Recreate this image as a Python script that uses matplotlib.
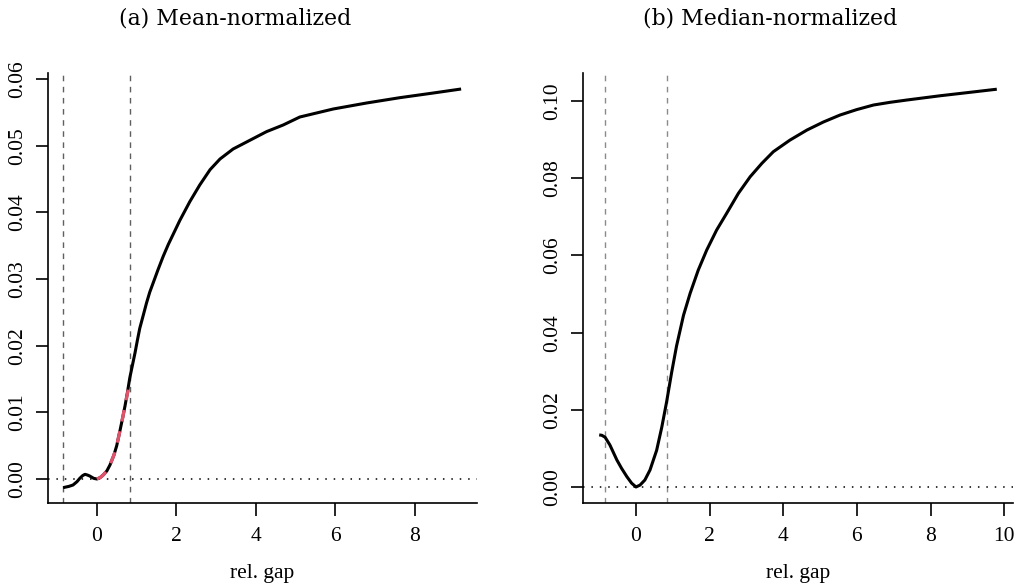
import matplotlib
matplotlib.use("Agg", force=True)
import matplotlib.pyplot as plt

# ---- data ----
# (a) mean-normalized curve
mean_x = [-0.85, -0.70, -0.60, -0.50, -0.43, -0.36, -0.30, -0.24, -0.18, -0.08,
          0.0, 0.08, 0.16, 0.25, 0.33, 0.43, 0.50, 0.58, 0.65, 0.71, 0.77,
          0.83, 0.90, 0.96, 1.02, 1.08, 1.17, 1.25, 1.33, 1.46, 1.54, 1.67,
          1.80, 2.09, 2.34, 2.59, 2.85, 3.10, 3.43, 3.85, 4.27, 4.69, 5.11,
          5.53, 5.95, 6.79, 7.63, 8.47, 9.17]
mean_y = [-0.0013, -0.0011, -0.0009, -0.0004, 0.0001, 0.0005, 0.0007, 0.0006,
          0.00045, 0.0001, 0.0, 0.0002, 0.0006, 0.0012, 0.0021, 0.0036, 0.0050,
          0.0072, 0.0092, 0.0110, 0.0130, 0.0152, 0.0172, 0.0189, 0.0208,
          0.0226, 0.0246, 0.0264, 0.0280, 0.0301, 0.0314, 0.0334, 0.0352,
          0.0388, 0.0416, 0.0441, 0.0464, 0.0480, 0.0495, 0.0508, 0.0521,
          0.0531, 0.0543, 0.0549, 0.0555, 0.0564, 0.0572, 0.0579, 0.0585]
# red dashed overlay near zero
fit_x = [0.0, 0.08, 0.16, 0.25, 0.33, 0.43, 0.50, 0.58, 0.65, 0.71, 0.79]
fit_y = [0.0, 0.0002, 0.0006, 0.0012, 0.0021, 0.0036, 0.0050, 0.0072, 0.0092,
         0.0110, 0.0134]

# (b) median-normalized curve
med_x = [-1.0, -0.93, -0.84, -0.71, -0.52, -0.39, -0.25, -0.12, 0.0, 0.11,
         0.24, 0.38, 0.56, 0.70, 0.83, 0.97, 1.10, 1.29, 1.47, 1.69, 1.92,
         2.19, 2.46, 2.78, 3.10, 3.42, 3.73, 4.18, 4.64, 5.09, 5.54, 5.99,
         6.45, 6.90, 7.36, 8.26, 9.17, 9.80]
med_y = [0.0135, 0.0134, 0.0129, 0.0109, 0.0070, 0.0048, 0.0027, 0.0010, 0.0,
         0.0005, 0.0018, 0.0044, 0.0095, 0.0155, 0.0220, 0.0298, 0.0365,
         0.0445, 0.0502, 0.0562, 0.0614, 0.0666, 0.0709, 0.0761, 0.0804,
         0.0839, 0.0869, 0.0899, 0.0925, 0.0946, 0.0964, 0.0978, 0.0990,
         0.0997, 0.1003, 0.1014, 0.1024, 0.1031]

cut_lines = [-0.84, 0.84]

titles = ["(a) Mean-normalized", "(b) Median-normalized"]
xticks_a = [0, 2, 4, 6, 8]
yticks_a = [0.00, 0.01, 0.02, 0.03, 0.04, 0.05, 0.06]
xticks_b = [0, 2, 4, 6, 8, 10]
yticks_b = [0.00, 0.02, 0.04, 0.06, 0.08, 0.10]

W, H = 1020, 588
fig = plt.figure(figsize=(W / 100, H / 100), dpi=100)

tick_font = {"family": "Liberation Serif", "size": 15.5}


def style(ax, xlim, ylim, xticks, yticks, yfmt, vcolor):
    ax.set_xlim(*xlim)
    ax.set_ylim(*ylim)
    for s in ("top", "right"):
        ax.spines[s].set_visible(False)
    for s in ("left", "bottom"):
        ax.spines[s].set_linewidth(1.2)
    ax.set_xticks(xticks)
    ax.set_xticklabels([str(t) for t in xticks], fontdict=tick_font)
    ax.set_yticks(yticks)
    ax.set_yticklabels([yfmt.format(t) for t in yticks], fontdict=tick_font,
                       rotation=90, va="center")
    ax.tick_params(axis="both", direction="out", length=9, width=1.2)
    ax.tick_params(axis="x", pad=8)
    ax.tick_params(axis="y", pad=6)
    for v in cut_lines:
        ax.axvline(v, color=vcolor, lw=1.0, dashes=(4, 4))
    ax.axhline(0, color="black", lw=1.1, dashes=(1, 4.5))
    ax.set_xlabel("rel. gap", family="Liberation Serif", size=15.5, labelpad=13)


ax1 = fig.add_axes([48 / W, 1 - 503 / H, 429 / W, 430 / H])
style(ax1, (-1.23, 9.57), (-0.0036, 0.0609), xticks_a, yticks_a, "{:.2f}", "#5f5f5f")
ax1.plot(mean_x, mean_y, color="black", lw=2.2, solid_capstyle="butt",
         solid_joinstyle="round")
ax1.plot(fit_x, fit_y, color="#DF536B", lw=2.4, dashes=(3.5, 3.0))

ax2 = fig.add_axes([583 / W, 1 - 503 / H, 430 / W, 430 / H])
style(ax2, (-1.44, 10.24), (-0.00415, 0.1073), xticks_b, yticks_b, "{:.2f}", "#8a8a8a")
ax2.plot(med_x, med_y, color="black", lw=2.2, solid_capstyle="butt",
         solid_joinstyle="round")

fig.text(235 / W, 1 - 19 / H, titles[0], family="DejaVu Serif", size=15.8,
         ha="center", va="center")
fig.text(770 / W, 1 - 19 / H, titles[1], family="DejaVu Serif", size=15.8,
         ha="center", va="center")

fig.savefig("out.png", dpi=100)
